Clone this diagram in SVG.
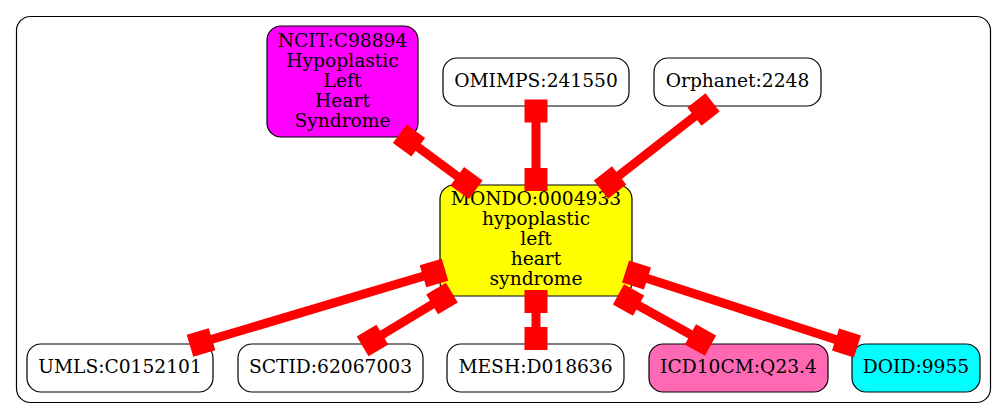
<svg xmlns="http://www.w3.org/2000/svg" width="1007" height="419" viewBox="0 0 1007 419">
<style>
.n{stroke:#000;stroke-width:1.2}
.t{font-family:"DejaVu Serif",serif;font-size:18.67px;text-anchor:middle;fill:#000}
.e{stroke:#f00;stroke-width:9;fill:none}
.b{fill:#f00}
</style>
<defs>
<rect id="bx" x="-11.5" y="-11.5" width="23" height="23" class="b"/>
</defs>
<rect x="16.5" y="16.5" width="974" height="386" rx="14" fill="#fff" stroke="#000" stroke-width="1.2"/>
<g id="ncit"><rect class="n" x="267" y="26" width="151" height="111" rx="14" fill="#ff00ff"/>
<text class="t" x="342.5" y="46.7">NCIT:C98894</text><text class="t" x="342.5" y="66.7">Hypoplastic</text><text class="t" x="342.5" y="86.7">Left</text><text class="t" x="342.5" y="106.7">Heart</text><text class="t" x="342.5" y="126.7">Syndrome</text></g>
<g id="omimps"><rect class="n" x="443" y="58" width="186" height="48" rx="14" fill="#fff"/><text class="t" x="536" y="87">OMIMPS:241550</text></g>
<g id="orphanet"><rect class="n" x="654" y="58" width="167" height="48" rx="14" fill="#fff"/><text class="t" x="737.5" y="87">Orphanet:2248</text></g>
<g id="mondo"><rect class="n" x="440" y="185" width="192" height="111" rx="14" fill="#ffff00"/>
<text class="t" x="536" y="205">MONDO:0004933</text><text class="t" x="536" y="225">hypoplastic</text><text class="t" x="536" y="245">left</text><text class="t" x="536" y="265">heart</text><text class="t" x="536" y="285">syndrome</text></g>
<g id="umls"><rect class="n" x="27" y="344" width="186" height="48" rx="14" fill="#fff"/><text class="t" x="120" y="373">UMLS:C0152101</text></g>
<g id="sctid"><rect class="n" x="238" y="344" width="185" height="48" rx="14" fill="#fff"/><text class="t" x="330.5" y="373">SCTID:62067003</text></g>
<g id="mesh"><rect class="n" x="447" y="344" width="177" height="48" rx="14" fill="#fff"/><text class="t" x="535.5" y="373">MESH:D018636</text></g>
<g id="icd"><rect class="n" x="649" y="344" width="179" height="48" rx="14" fill="#ff69b4"/><text class="t" x="738.5" y="373">ICD10CM:Q23.4</text></g>
<g id="doid"><rect class="n" x="852" y="344" width="128" height="48" rx="14" fill="#00ffff"/><text class="t" x="916" y="373">DOID:9955</text></g>
<g id="edges">
<line class="e" x1="409" y1="140.5" x2="466.5" y2="183"/>
<use href="#bx" transform="translate(409,140.5) rotate(36.5)"/><use href="#bx" transform="translate(466.5,183) rotate(36.5)"/>
<line class="e" x1="536" y1="111" x2="536" y2="179.5"/>
<use href="#bx" transform="translate(536,111)"/><use href="#bx" transform="translate(536,179.5)"/>
<line class="e" x1="703.5" y1="109.5" x2="610" y2="182.5"/>
<use href="#bx" transform="translate(703.5,109.5) rotate(-38)"/><use href="#bx" transform="translate(610,182.5) rotate(-38)"/>
<line class="e" x1="201" y1="342.5" x2="434" y2="273"/>
<use href="#bx" transform="translate(201,342.5) rotate(-16.6)"/><use href="#bx" transform="translate(434,273) rotate(-16.6)"/>
<line class="e" x1="372.5" y1="340.5" x2="442" y2="298.5"/>
<use href="#bx" transform="translate(372.5,340.5) rotate(-31)"/><use href="#bx" transform="translate(442,298.5) rotate(-31)"/>
<line class="e" x1="536" y1="301.5" x2="536" y2="338.5"/>
<use href="#bx" transform="translate(536,301.5)"/><use href="#bx" transform="translate(536,338.5)"/>
<line class="e" x1="628.5" y1="300" x2="700.5" y2="340"/>
<use href="#bx" transform="translate(628.5,300) rotate(29)"/><use href="#bx" transform="translate(700.5,340) rotate(29)"/>
<line class="e" x1="636.5" y1="275" x2="846.5" y2="343"/>
<use href="#bx" transform="translate(636.5,275) rotate(18)"/><use href="#bx" transform="translate(846.5,343) rotate(18)"/>
</g>
</svg>
